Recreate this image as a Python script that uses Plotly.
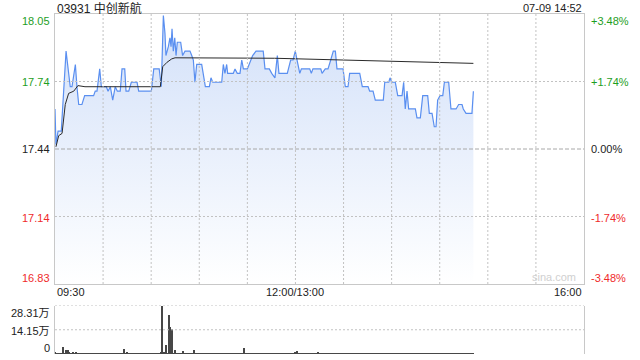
import plotly.graph_objects as go

# ---------------- data ----------------
stock_title = "03931 中创新航"
stamp = "07-09 14:52"
prev_close = 17.44
pct_levels = [3.48, 1.74, 0.00, -1.74, -3.48]
price_labels = ["18.05", "17.74", "17.44", "17.14", "16.83"]
pct_labels = ["+3.48%", "+1.74%", "0.00%", "-1.74%", "-3.48%"]
time_labels = ["09:30", "12:00/13:00", "16:00"]
time_pos = [0, 150, 330]
grid_minutes = [30, 60, 90, 120, 150, 180, 210, 240, 270, 300]
session_minutes = 330

price_min = [0, 0.6, 1.9, 3.9, 6.9, 9.5, 10.6, 11.7, 12.7, 13.7, 14.8, 16.8, 18.5, 24.1, 25.1, 26.2,
             27.9, 28.9, 32, 33.1, 34.5, 36, 37.6, 38.9, 40.7, 41.8, 43.5, 44.3, 46, 47.6, 51.2, 52.2,
             60.1, 61.6, 64.3, 65, 66.3, 67.6, 68.6, 69.2, 70.7, 71.7, 72.4, 73, 73.8, 74.7, 75.5,
             76.3, 78.4, 79.6, 81.1, 84.2, 85.3, 86.3, 87.3, 88.4, 91.5, 92.5, 93.8, 96.3, 97.3, 98.4,
             104, 105, 106, 107.1, 107.7, 111.2, 112.3, 113.7, 115.4, 116.5, 117.5, 120, 121.2, 123.3,
             125.4, 129.9, 131, 133.7, 135.2, 137.2, 138.7, 139.7, 144.9, 147, 148.5, 149.9, 151,
             152.7, 153.7, 158.9, 159.9, 160.9, 165.8, 166.6, 168.6, 170.3, 172, 173.6, 174.9, 175.9,
             179.7, 181.1, 182.8, 183.8, 190.1, 191.7, 195.3, 196.3, 198.4, 199.8, 204.8, 205.7,
             208.2, 209, 210, 212.3, 213.8, 216.5, 217.5, 218.5, 219.6, 220.6, 224.8, 225.8, 227.9,
             229.4, 232.5, 233.5, 235.2, 236.6, 237.7, 238.7, 240.2, 241.9, 242.9, 245.6, 247, 250.2,
             251.8, 253.9, 254.7, 256.4, 260.1, 261]
price_val = [17.62, 17.46, 17.52, 17.52, 17.88, 17.72, 17.72, 17.78, 17.82, 17.72, 17.64, 17.64, 17.68,
             17.68, 17.70, 17.70, 17.80, 17.72, 17.72, 17.70, 17.72, 17.66, 17.72, 17.70, 17.70, 17.80,
             17.80, 17.70, 17.70, 17.74, 17.74, 17.70, 17.70, 17.80, 17.80, 17.80, 17.72, 18.04, 17.96,
             17.86, 17.90, 17.94, 17.90, 17.98, 17.88, 17.94, 17.86, 17.92, 17.92, 17.86, 17.88, 17.88,
             17.86, 17.84, 17.74, 17.82, 17.82, 17.78, 17.72, 17.72, 17.76, 17.74, 17.74, 17.82, 17.78,
             17.82, 17.78, 17.78, 17.80, 17.78, 17.78, 17.84, 17.80, 17.80, 17.82, 17.86, 17.88, 17.88,
             17.80, 17.80, 17.78, 17.76, 17.86, 17.78, 17.78, 17.84, 17.84, 17.88, 17.84, 17.78, 17.80,
             17.80, 17.78, 17.80, 17.80, 17.78, 17.80, 17.80, 17.84, 17.88, 17.88, 17.80, 17.80, 17.72,
             17.72, 17.78, 17.78, 17.72, 17.72, 17.70, 17.70, 17.66, 17.66, 17.74, 17.74, 17.76, 17.74,
             17.74, 17.68, 17.68, 17.74, 17.62, 17.70, 17.62, 17.62, 17.58, 17.58, 17.68, 17.68, 17.60,
             17.60, 17.54, 17.54, 17.66, 17.68, 17.68, 17.74, 17.74, 17.62, 17.62, 17.64, 17.64, 17.62,
             17.60, 17.60, 17.70]

avg_min = [0.6, 2.3, 4.4, 6.4, 8.5, 11.7, 14.3, 18.7, 60.5, 65.7, 67.2, 69.9, 72.8, 74.9, 137, 204.6, 261]
avg_val = [17.45, 17.50, 17.51, 17.64, 17.69, 17.70, 17.725, 17.72, 17.72, 17.72, 17.81, 17.83, 17.845,
           17.85, 17.848, 17.837, 17.825]

# volume per minute (万股), minutes 0..261
volume = [1.2, 0.6, 0.8, 0.9, 0.7, 4.1, 1.0, 2.5, 2.6, 1.6,
          1.1, 1.3, 0.9, 1.5, 1.0, 0.7, 0.8, 0.6, 0.9, 0.7,
          0.6, 0.8, 0.5, 0.7, 0.6, 0.9, 0.5, 0.6, 0.8, 0.7,
          0.5, 0.6, 0.4, 0.7, 0.8, 0.6, 0.5, 0.9, 0.6, 0.5,
          0.7, 0.6, 0.8, 3.1, 0.9, 1.6, 0.6, 0.5, 0.7, 0.6,
          0.5, 0.4, 0.6, 0.5, 0.7, 0.6, 0.4, 0.5, 0.6, 0.5,
          0.7, 0.8, 0.6, 0.5, 0.9, 0.7, 1.2, 28.31, 1.5, 5.5,
          1.0, 23.2, 16.3, 14.7, 1.1, 2.5, 0.8, 0.9, 0.7, 0.6,
          2.0, 0.8, 0.6, 0.7, 0.9, 0.5, 0.8, 2.5, 0.7, 0.6,
          0.5, 0.6, 0.8, 0.5, 0.4, 0.6, 0.5, 0.7, 0.4, 0.5,
          0.6, 0.5, 0.4, 0.7, 0.5, 0.6, 0.4, 0.5, 0.6, 0.8,
          0.5, 0.4, 0.6, 0.7, 0.5, 0.6, 0.8, 0.9, 3.9, 0.7,
          0.6, 0.5, 0.8, 0.6, 0.5, 0.7, 0.4, 0.6, 0.5, 0.4,
          0.6, 0.5, 0.7, 0.4, 0.5, 0.6, 0.5, 0.4, 0.6, 0.5,
          0.7, 0.5, 0.4, 0.6, 0.5, 0.7, 0.6, 0.5, 0.8, 1.0,
          1.3, 2.0, 0.9, 1.1, 0.8, 0.7, 0.6, 0.9, 0.5, 0.6,
          0.7, 0.5, 0.6, 0.9, 1.2, 0.8, 1.0, 0.7, 1.1, 0.6,
          0.5, 0.7, 0.6, 0.5, 0.8, 0.6, 0.4, 0.5, 0.6, 0.7,
          0.5, 0.6, 0.4, 0.5, 0.7, 0.6, 0.5, 0.4, 0.6, 0.8,
          1.0, 0.7, 0.6, 0.5, 0.7, 0.8, 0.6, 0.5, 0.9, 0.6,
          0.5, 0.6, 0.7, 0.5, 0.6, 0.8, 0.5, 0.4, 0.6, 0.7,
          0.5, 0.6, 0.4, 0.7, 0.5, 0.6, 0.8, 0.5, 0.9, 0.6,
          0.7, 0.5, 0.6, 0.4, 0.5, 0.7, 0.6, 0.5, 0.8, 0.6,
          0.5, 0.7, 0.6, 0.5, 0.4, 0.6, 0.5, 0.7, 0.6, 0.5,
          0.6, 0.5, 0.7, 0.8, 0.6, 0.5, 0.4, 0.6, 0.5, 0.7,
          0.6, 0.5, 0.7, 0.6, 0.5, 0.4, 0.6, 0.5, 0.7, 0.6,
          0.8, 0.5]
vol_max = 28.31
vol_ticks = [28.31, 14.15, 0]
vol_labels = ["28.31万", "14.15万", "0"]

# ---------------- styling ----------------
FONT = "Liberation Sans, Arial, Noto Sans CJK SC, sans-serif"
GREEN = "#1e9e1e"
RED = "#ef2b2b"
BLACK = "#222222"
GRID = "#c2c2c2"
BORDER = "#c8c8c8"
H = 360
M_T, M_B = 14, 6
PH = H - M_T - M_B


def py(px):
    """pixel row -> paper y"""
    return (H - M_B - px) / PH


levels = [prev_close * (1 + p / 100.0) for p in pct_levels]
ymax, ymin = levels[0], levels[-1]
label_colors = [GREEN, GREEN, BLACK, RED, RED]

fig = go.Figure()

fig.add_trace(go.Scatter(
    x=price_min, y=price_val, mode="lines",
    line=dict(color="#5a8ff0", width=1.2),
    fill="tozeroy",
    fillgradient=dict(type="vertical", start=ymin, stop=ymax,
                      colorscale=[[0, "rgba(255,255,255,1)"], [1, "rgba(210,224,249,1)"]]),
    hoverinfo="skip", xaxis="x", yaxis="y"))

fig.add_trace(go.Scatter(
    x=avg_min, y=avg_val, mode="lines",
    line=dict(color="#2a2a2a", width=1),
    hoverinfo="skip", xaxis="x", yaxis="y"))

fig.add_trace(go.Bar(
    x=list(range(len(volume))), y=volume, width=0.7,
    marker=dict(color="#474747", line=dict(width=0)),
    hoverinfo="skip", xaxis="x2", yaxis="y2"))

main_bottom = py(284)
vol_top = py(305.5)

fig.update_layout(
    width=640, height=H,
    margin=dict(l=55, r=56, t=M_T, b=M_B),
    paper_bgcolor="white", plot_bgcolor="white",
    showlegend=False,
    font=dict(family=FONT, size=11, color=BLACK),
    xaxis=dict(domain=[0, 1], range=[0, session_minutes], showticklabels=False, showgrid=False,
               showline=True, mirror=True, linecolor=BORDER, linewidth=1, zeroline=False,
               anchor="y", layer="above traces"),
    yaxis=dict(domain=[main_bottom, 1], range=[ymin, ymax], showticklabels=False, showgrid=False,
               showline=True, mirror=True, linecolor=BORDER, linewidth=1, zeroline=False,
               anchor="x", layer="above traces"),
    xaxis2=dict(domain=[0, 1], range=[0, session_minutes], showticklabels=False, showgrid=False,
                showline=False, zeroline=False, anchor="y2"),
    yaxis2=dict(domain=[0, vol_top], range=[0, vol_max], showticklabels=False, showgrid=False,
                showline=True, mirror=True, linecolor=BORDER, linewidth=1, zeroline=False,
                anchor="x2"),
    bargap=0,
)

shapes = []
for m in grid_minutes:
    shapes.append(dict(type="line", xref="x", yref="y", x0=m, x1=m, y0=ymin, y1=ymax, layer="above",
                       line=dict(color=GRID, width=1, dash="2px,2px")))
for lv in (levels[1], levels[3]):
    shapes.append(dict(type="line", xref="x", yref="y", x0=0, x1=session_minutes, y0=lv, y1=lv,
                       layer="above", line=dict(color=GRID, width=1, dash="2px,2px")))
shapes.append(dict(type="line", xref="x", yref="y", x0=0, x1=session_minutes, y0=prev_close,
                   y1=prev_close, layer="above", line=dict(color="#a8a8a8", width=1, dash="4px,2px")))
for v in vol_ticks[:2]:
    shapes.append(dict(type="line", xref="x2", yref="y2", x0=0, x1=session_minutes, y0=v, y1=v,
                       line=dict(color=GRID, width=1, dash="2px,2px")))
fig.update_layout(shapes=shapes)

ann = []
ann.append(dict(text=stock_title, xref="paper", yref="paper", x=0, y=py(8), xanchor="left",
                yanchor="middle", showarrow=False, font=dict(size=12, color=BLACK)))
ann.append(dict(text=stamp, xref="paper", yref="paper", x=1, y=py(8), xanchor="right",
                yanchor="middle", showarrow=False, font=dict(size=11, color=BLACK)))
label_rows = [20.5, 82.5, 149, 217.5, 278]
for pl, cl, col, row in zip(price_labels, pct_labels, label_colors, label_rows):
    ann.append(dict(text=pl, xref="paper", yref="paper", x=0, y=py(row), xanchor="right",
                    yanchor="middle", xshift=-3, showarrow=False, font=dict(size=11, color=col)))
    ann.append(dict(text=cl, xref="paper", yref="paper", x=1, y=py(row), xanchor="left",
                    yanchor="middle", xshift=5, showarrow=False, font=dict(size=11, color=col)))
anchors = ["left", "center", "right"]
for t, p, a in zip(time_labels, time_pos, anchors):
    ann.append(dict(text=t, xref="x", yref="paper", x=p, y=py(292), xanchor=a,
                    yanchor="middle", showarrow=False, font=dict(size=11, color=BLACK)))
vol_rows = [313, 330.5, 348]
for lab, row in zip(vol_labels, vol_rows):
    ann.append(dict(text=lab, xref="paper", yref="paper", x=0, y=py(row), xanchor="right",
                    yanchor="middle", xshift=-3, showarrow=False, font=dict(size=11, color=BLACK)))
ann.append(dict(text="sina.com", xref="paper", yref="paper", x=1, y=py(277), xanchor="right",
                yanchor="middle", xshift=-6, showarrow=False,
                font=dict(size=11, color="#d0d0d0")))
fig.update_layout(annotations=ann)

fig.write_html("out.html", config={"displayModeBar": False})
